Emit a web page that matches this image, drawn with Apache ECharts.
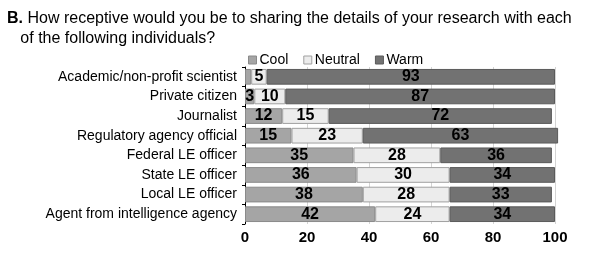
<!DOCTYPE html>
<html><head><meta charset="utf-8">
<script src="https://cdn.jsdelivr.net/npm/echarts@6/dist/echarts.min.js"></script>
<style>html,body{margin:0;padding:0;background:#fff}#c{width:591px;height:254px}</style>
</head><body><div id="c"></div>
<script>
const categories = ["Academic/non-profit scientist","Private citizen","Journalist","Regulatory agency official","Federal LE officer","State LE officer","Local LE officer","Agent from intelligence agency"];
const cool = [2,3,12,15,35,36,38,42];
const neutral = [5,10,15,23,28,30,28,24];
const warm = [93,87,72,63,36,34,33,34];
const xTicks = [0,20,40,60,80,100];
const seriesNames = ["Cool","Neutral","Warm"];

const chart = echarts.init(document.getElementById('c'), null, {renderer:'canvas'});
const font = "Liberation Sans, Arial, sans-serif";
const fills = ['#a5a5a5','#ececec','#727272'];
const borders = ['#8a8a8a','#a0a0a0','#5a5a5a'];
const vals = [cool, neutral, warm];
chart.setOption({
  animation:false,
  backgroundColor:'#fff',
  title:{
    text:'{b|B.} How receptive would you be to sharing the details of your research with each\n   of the following individuals?',
    left:2, top:4,
    textStyle:{fontFamily:font,fontSize:16,fontWeight:'normal',color:'#000',lineHeight:20,
      rich:{b:{fontFamily:font,fontSize:16,fontWeight:'bold',color:'#000'}}}
  },
  legend:{
    data:seriesNames.map(n=>({name:n,icon:'rect'})), left:248, top:53, padding:0, itemWidth:8, itemHeight:8, itemGap:15,
    itemStyle:{borderWidth:1},
    textStyle:{fontFamily:font,fontSize:14,color:'#000',padding:[0,0,0,-2]}
  },
  grid:{left:245,right:36,top:67,bottom:30},
  xAxis:{
    type:'value', min:0, max:100, interval:20,
    axisLine:{show:false}, axisTick:{show:false},
    splitLine:{show:true,lineStyle:{color:'#d4d4d4',width:1}},
    axisLabel:{fontFamily:font,fontSize:15,fontWeight:'bold',color:'#000',margin:6,
      formatter:v=>xTicks.includes(v)?String(v):''}
  },
  yAxis:{
    type:'category', inverse:true, data:categories,
    axisLine:{show:true,lineStyle:{color:'#000',width:1}},
    axisTick:{show:true,length:3,lineStyle:{color:'#000'}},
    axisLabel:{fontFamily:font,fontSize:14,color:'#000',margin:8}
  },
  series: seriesNames.map((n,i)=>({
    name:n, type:'bar', stack:'s', data:vals[i], barCategoryGap:'20%', clip:false,
    itemStyle:{color:fills[i],borderColor:borders[i],borderWidth:1},
    label:{show:true,position:'inside',fontFamily:font,fontSize:16,fontWeight:'bold',color:'#000',
      formatter:p=>p.value>=3?String(p.value):''}
  }))
});
</script></body></html>
